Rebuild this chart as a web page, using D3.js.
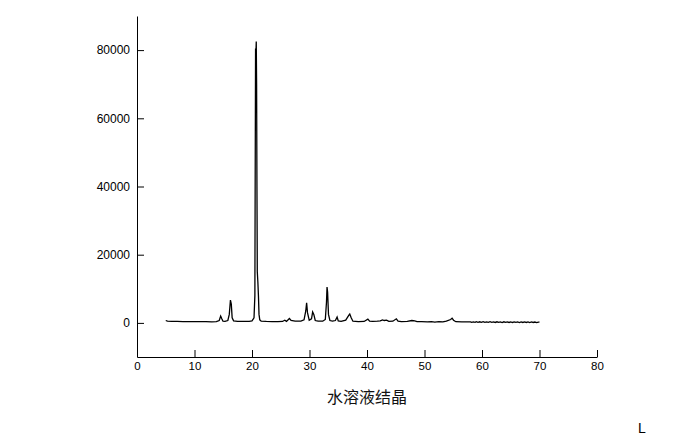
<!DOCTYPE html>
<html>
<head>
<meta charset="utf-8">
<script src="https://cdn.jsdelivr.net/npm/d3@7"></script>
<style>
  html, body { margin: 0; padding: 0; background: #fff; }
  svg { display: block; }
</style>
</head>
<body>
<svg id="chart" width="687" height="436"></svg>
<script>
// ---- data ----
const xTicks = [0, 10, 20, 30, 40, 50, 60, 70, 80];
const yTicks = [0, 20000, 40000, 60000, 80000];
const xTitle = "水溶液结晶";
const twoTheta = [
  5.0, 5.3, 6.0, 7.0, 8.0, 9.0, 10.0, 11.0, 12.0, 13.0, 13.8, 14.3, 14.55, 14.75, 14.95,
  15.3, 15.8, 16.05, 16.25, 16.4, 16.55, 16.8, 17.5, 18.5, 19.5, 20.0, 20.35, 20.5, 20.55,
  20.62, 20.68, 20.74, 20.8, 20.86, 20.92, 21.02, 21.12, 21.22, 21.35, 21.6, 22.5, 23.5,
  24.5, 25.3, 25.7, 26.0, 26.5, 26.8, 27.5, 28.5, 29.05, 29.35, 29.5, 29.65, 29.95, 30.35,
  30.55, 30.75, 31.0, 31.5, 32.3, 32.75, 32.95, 33.05, 33.15, 33.3, 33.55, 34.0, 34.5, 34.8,
  35.0, 35.5, 36.3, 36.85, 37.0, 37.25, 37.55, 38.5, 39.5, 40.15, 40.45, 41.0, 41.8, 42.3,
  42.7, 43.0, 43.4, 43.8, 44.5, 45.1, 45.4, 46.0, 47.0, 47.8, 48.3, 48.7, 49.5, 50.5,
  51.2, 51.8, 52.5, 53.2, 53.8, 54.55, 54.8, 55.05, 55.45, 56.5, 57.5, 58.0, 58.2, 58.5,
  58.8, 59.0, 59.3, 59.6, 59.9, 60.2, 60.5, 60.8, 61.1, 61.4, 61.7, 62.0, 62.3, 62.6,
  62.9, 63.2, 63.5, 63.8, 64.1, 64.4, 64.7, 65.0, 65.3, 65.6, 65.9, 66.2, 66.5, 66.8,
  67.1, 67.4, 67.7, 68.0, 68.3, 68.6, 68.9, 69.2, 69.5, 69.8, 70.0
];
const intensity = [
  700, 500, 450, 420, 400, 380, 380, 360, 350, 300, 350, 700, 2000, 1200, 500,
  450, 700, 2500, 6700, 5500, 1500, 600, 450, 420, 450, 600, 1500, 8000, 40000,
  80500, 79000, 82500, 70000, 40000, 15000, 12000, 8000, 2500, 900, 500, 420, 400,
  380, 420, 800, 450, 1300, 700, 500, 550, 900, 3500, 5900, 3000, 800, 1200,
  3200, 2500, 700, 500, 500, 1000, 6000, 10500, 9000, 2500, 700, 500, 700, 1700,
  600, 450, 800, 2300, 2600, 1500, 500, 400, 420, 1100, 500, 450, 500, 600,
  900, 700, 800, 450, 500, 1200, 500, 400, 450, 700, 600, 380, 350, 300,
  400, 250, 350, 300, 500, 1000, 1400, 800, 350, 300, 280, 320, 150, 300,
  180, 350, 160, 330, 150, 360, 170, 320, 140, 340, 160, 300, 130, 330,
  150, 310, 120, 320, 140, 300, 130, 310, 120, 290, 140, 300, 110, 280,
  130, 290, 120, 280, 100, 270, 120, 260, 110, 250, 200
];

// ---- layout ----
const svg = d3.select("#chart");
const x = d3.scaleLinear().domain([0, 80]).range([137, 597]);
const y = d3.scaleLinear().domain([-10000, 90000]).range([357, 16]);

const fontNum = "'Liberation Sans', Arial, sans-serif";

// x axis
const gx = svg.append("g")
  .attr("transform", `translate(0,${y(-10000)})`)
  .call(d3.axisBottom(x).tickValues(xTicks).tickSize(-7).tickSizeOuter(0).tickPadding(5).tickFormat(d3.format("d")));
gx.selectAll("text").attr("font-family", fontNum).attr("font-size", 11.5).attr("fill", "#000");
gx.selectAll("line, path").attr("stroke", "#000");

// y axis
const gy = svg.append("g")
  .attr("transform", `translate(${x(0)},0)`)
  .call(d3.axisLeft(y).tickValues(yTicks).tickSize(-7).tickSizeOuter(0).tickPadding(7).tickFormat(d3.format("d")));
gy.selectAll("text").attr("font-family", fontNum).attr("font-size", 12).attr("fill", "#000");
gy.selectAll("line, path").attr("stroke", "#000");

// data line
const pts = twoTheta.map((t, i) => [t, intensity[i]]);
svg.append("path")
  .datum(pts)
  .attr("fill", "none")
  .attr("stroke", "#000")
  .attr("stroke-width", 1.3)
  .attr("d", d3.line().x(d => x(d[0])).y(d => y(d[1])));

// x title
svg.append("text")
  .attr("x", (x(0) + x(80)) / 2)
  .attr("y", 403)
  .attr("text-anchor", "middle")
  .attr("font-family", "'Noto Sans CJK SC', sans-serif")
  .attr("font-size", 16)
  .attr("fill", "#111")
  .text(xTitle);

// stray mark in bottom right corner
svg.append("text")
  .attr("x", 638)
  .attr("y", 433)
  .attr("font-family", fontNum)
  .attr("font-size", 14)
  .attr("fill", "#000")
  .text("L");
</script>
</body>
</html>
